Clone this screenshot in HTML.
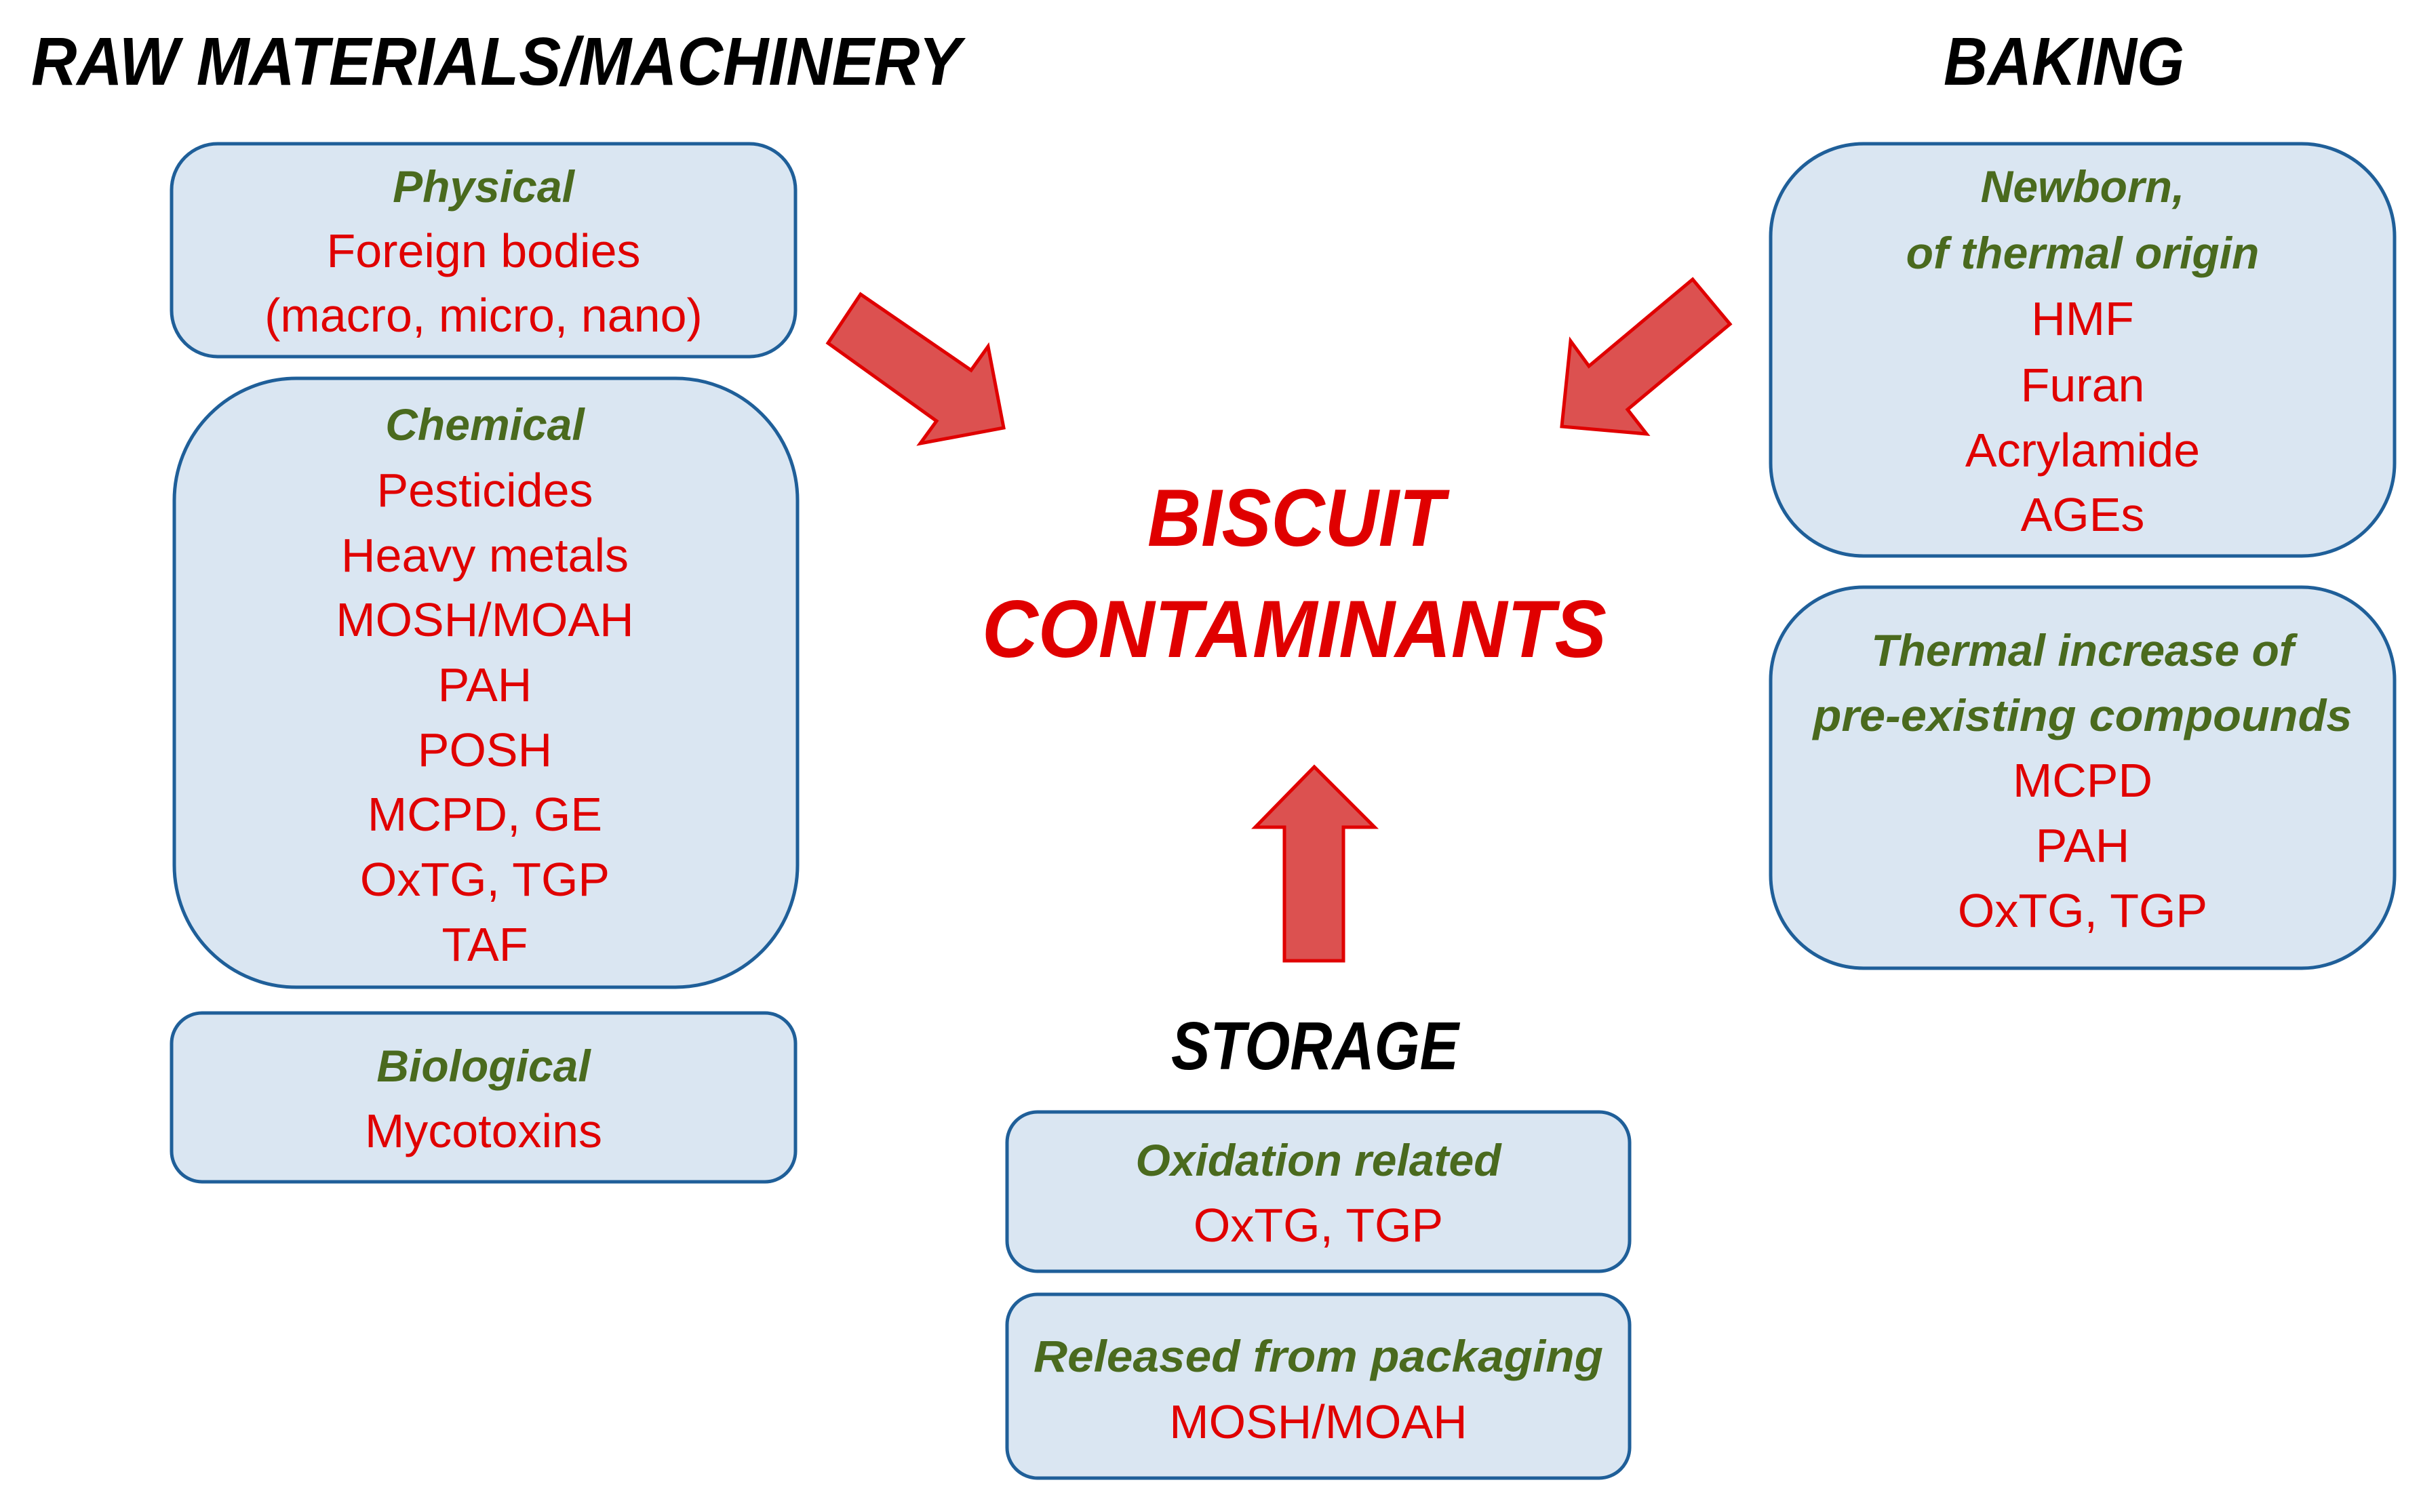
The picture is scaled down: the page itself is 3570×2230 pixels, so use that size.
<!DOCTYPE html>
<html><head><meta charset="utf-8"><style>
html,body{margin:0;padding:0;background:#fff;}
svg{display:block;}
text{font-family:"Liberation Sans",sans-serif;}
.t{font-weight:bold;font-style:italic;fill:#000;font-size:100px;}
.g{font-weight:bold;font-style:italic;fill:#4a6a1e;font-size:66px;text-anchor:middle;}
.r{fill:#e00000;font-size:70px;text-anchor:middle;}
.box{fill:#dae6f2;stroke:#1f5f99;stroke-width:5;}
.arr{fill:#dc5150;stroke:#e00000;stroke-width:5;stroke-linejoin:miter;}
</style></head><body>
<svg width="3570" height="2230" viewBox="0 0 3570 2230" xmlns="http://www.w3.org/2000/svg">
<text class="t" x="46" y="125" textLength="1371" lengthAdjust="spacingAndGlyphs">RAW MATERIALS/MACHINERY</text>
<text class="t" x="2866" y="125" textLength="355" lengthAdjust="spacingAndGlyphs">BAKING</text>
<text class="t" x="1727" y="1577" textLength="424" lengthAdjust="spacingAndGlyphs">STORAGE</text>

<rect class="box" x="253" y="212" width="920" height="314" rx="68"/>
<rect class="box" x="257" y="558" width="919" height="898" rx="180"/>
<rect class="box" x="253" y="1494" width="920" height="249" rx="45"/>
<rect class="box" x="2611" y="212" width="920" height="608" rx="137"/>
<rect class="box" x="2611" y="866" width="920" height="562" rx="137"/>
<rect class="box" x="1485" y="1640" width="918" height="235" rx="45"/>
<rect class="box" x="1485" y="1909" width="918" height="271" rx="45"/>

<text class="g" x="713" y="298">Physical</text>
<text class="r" x="713" y="394">Foreign bodies</text>
<text class="r" x="713" y="489">(macro, micro, nano)</text>

<text class="g" x="715" y="649">Chemical</text>
<text class="r" x="715" y="747">Pesticides</text>
<text class="r" x="715" y="843">Heavy metals</text>
<text class="r" x="715" y="938">MOSH/MOAH</text>
<text class="r" x="715" y="1034">PAH</text>
<text class="r" x="715" y="1130">POSH</text>
<text class="r" x="715" y="1225">MCPD, GE</text>
<text class="r" x="715" y="1321">OxTG, TGP</text>
<text class="r" x="715" y="1417">TAF</text>

<text class="g" x="713" y="1595">Biological</text>
<text class="r" x="713" y="1692">Mycotoxins</text>

<text class="g" x="3071" y="298">Newborn,</text>
<text class="g" x="3071" y="396">of thermal origin</text>
<text class="r" x="3071" y="494">HMF</text>
<text class="r" x="3071" y="592">Furan</text>
<text class="r" x="3071" y="688">Acrylamide</text>
<text class="r" x="3071" y="783">AGEs</text>

<text class="g" x="3071" y="982">Thermal increase of</text>
<text class="g" x="3071" y="1078" textLength="795" lengthAdjust="spacingAndGlyphs">pre-existing compounds</text>
<text class="r" x="3071" y="1175">MCPD</text>
<text class="r" x="3071" y="1271">PAH</text>
<text class="r" x="3071" y="1367">OxTG, TGP</text>

<text class="g" x="1944" y="1734">Oxidation related</text>
<text class="r" x="1944" y="1831">OxTG, TGP</text>
<text class="g" x="1944" y="2023" textLength="840" lengthAdjust="spacingAndGlyphs">Released from packaging</text>
<text class="r" x="1944" y="2121">MOSH/MOAH</text>

<text x="1692" y="805" textLength="438" lengthAdjust="spacingAndGlyphs" style="font-weight:bold;font-style:italic;fill:#e00000;font-size:120px;">BISCUIT</text>
<text x="1448" y="969" textLength="921" lengthAdjust="spacingAndGlyphs" style="font-weight:bold;font-style:italic;fill:#e00000;font-size:120px;">CONTAMINANTS</text>

<polygon class="arr" points="1221,506 1269,434 1432,546 1457,511 1480,631 1357,654 1381,621"/>
<polygon class="arr" points="2551,478 2496,412 2343,540 2316,503 2303,629 2428,640 2400,604"/>
<polygon class="arr" points="1938,1131 2027,1220 1981,1220 1981,1417 1894,1417 1894,1220 1851,1220"/>
</svg>
</body></html>
